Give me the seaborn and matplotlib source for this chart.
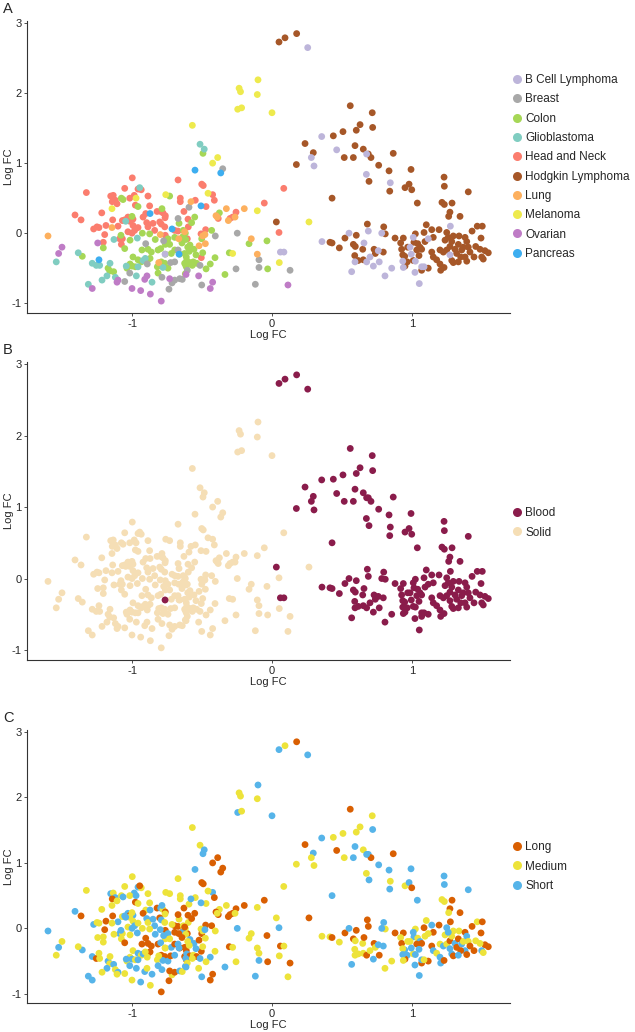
import pandas as pd
import matplotlib
matplotlib.use("Agg")
import matplotlib.pyplot as plt
import seaborn as sns
from matplotlib.lines import Line2D

# (log FC x, log FC y, treatment duration L/M/S) per cancer type
head_neck = [
    (-0.998, 0.79, 'M'), (-1.052, 0.64, 'M'), (-1.326, 0.58, 'M'), (-0.957, 0.63, 'S'), (-0.934, 0.62, 'M'),
    (-0.984, 0.54, 'S'), (-0.886, 0.53, 'M'), (-1.016, 0.50, 'M'), (-0.671, 0.76, 'M'), (-1.152, 0.53, 'S'),
    (-1.134, 0.54, 'M'), (-1.119, 0.47, 'S'), (-1.141, 0.45, 'L'), (-1.107, 0.42, 'M'), (-0.655, 0.50, 'M'),
    (-0.655, 0.45, 'M'), (-0.976, 0.40, 'L'), (-0.874, 0.39, 'M'), (-0.821, 0.31, 'L'), (-0.795, 0.31, 'S'),
    (-0.779, 0.29, 'M'), (-0.902, 0.28, 'M'), (-0.921, 0.23, 'L'), (-1.216, 0.29, 'M'), (-1.407, 0.26, 'S'),
    (-1.364, 0.19, 'L'), (-0.629, 0.31, 'L'), (-0.762, 0.25, 'L'), (-0.764, 0.22, 'M'), (-1.029, 0.23, 'S'),
    (-1.014, 0.20, 'L'), (-0.993, 0.20, 'S'), (-1.016, 0.17, 'M'), (-1.069, 0.18, 'M'), (-1.052, 0.19, 'S'),
    (-1.138, 0.19, 'L'), (-1.186, 0.11, 'L'), (-1.10, 0.10, 'S'), (-0.895, 0.15, 'S'), (-0.886, 0.09, 'M'),
    (-0.85, 0.14, 'S'), (-0.802, 0.16, 'L'), (-0.791, 0.13, 'S'), (-0.766, 0.09, 'M'), (-0.993, 0.11, 'M'),
    (-0.981, 0.04, 'S'), (-0.957, 0.08, 'M'), (-1.274, 0.06, 'S'), (-1.25, 0.09, 'M'), (-1.236, 0.08, 'M'),
    (-0.695, 0.04, 'L'), (-0.671, 0.03, 'L'), (-0.838, 0.04, 'S'), (-1.195, -0.02, 'L'), (-1.029, 0.02, 'M'),
    (-1.0, 0.00, 'S'), (-0.762, -0.03, 'L'), (-1.088, -0.08, 'S'), (-1.069, -0.08, 'M'), (-1.205, -0.13, 'M'),
    (-1.076, -0.16, 'M'), (-0.502, 0.70, 'L'), (-0.491, 0.68, 'L'), (-0.424, 0.55, 'S'), (-0.412, 0.47, 'L'),
    (-0.471, 0.38, 'M'), (-0.548, 0.47, 'M'), (-0.055, 0.43, 'L'), (-0.257, 0.30, 'L'), (-0.384, 0.21, 'L'),
    (-0.30, 0.21, 'L'), (-0.281, 0.23, 'L'), (-0.60, 0.20, 'L'), (-0.598, 0.09, 'M'), (-0.474, 0.05, 'L'),
    (-0.507, -0.01, 'M'), (-0.605, -0.08, 'L'), (-0.505, -0.35, 'L'), (0.084, 0.64, 'M'), (0.05, 0.01, 'S'),
]

colon = [
    (-0.731, 0.53, 'M'), (-1.076, 0.50, 'M'), (-1.064, 0.48, 'S'), (-0.957, 0.38, 'M'), (-0.786, 0.35, 'S'),
    (-1.0, 0.24, 'M'), (-0.664, 0.14, 'M'), (-0.926, 0.00, 'M'), (-0.874, -0.01, 'M'), (-1.079, -0.03, 'S'),
    (-1.014, -0.10, 'M'), (-0.834, -0.09, 'S'), (-0.743, -0.08, 'S'), (-0.695, -0.06, 'L'), (-0.636, -0.05, 'L'),
    (-0.762, -0.16, 'M'), (-0.731, -0.16, 'M'), (-1.205, -0.21, 'M'), (-1.052, -0.22, 'L'), (-1.355, -0.33, 'S'),
    (-0.929, -0.24, 'L'), (-0.886, -0.23, 'L'), (-0.862, -0.27, 'L'), (-0.814, -0.24, 'L'), (-0.795, -0.22, 'S'),
    (-0.762, -0.30, 'M'), (-0.719, -0.29, 'S'), (-0.695, -0.24, 'L'), (-0.659, -0.30, 'L'), (-0.624, -0.29, 'L'),
    (-0.612, -0.34, 'L'), (-0.993, -0.34, 'M'), (-0.957, -0.38, 'S'), (-0.934, -0.41, 'M'), (-0.886, -0.38, 'L'),
    (-0.871, -0.36, 'L'), (-0.791, -0.41, 'L'), (-0.766, -0.43, 'L'), (-0.743, -0.50, 'S'), (-0.624, -0.43, 'L'),
    (-0.612, -0.48, 'L'), (-1.171, -0.50, 'S'), (-1.159, -0.54, 'M'), (-1.036, -0.50, 'M'), (-1.014, -0.44, 'M'),
    (-1.0, -0.47, 'S'), (-0.976, -0.48, 'M'), (-0.819, -0.48, 'M'), (-0.814, -0.57, 'S'), (-1.131, -0.55, 'S'),
    (-0.619, -0.58, 'S'), (-0.493, 1.14, 'S'), (-0.376, 0.29, 'M'), (-0.552, 0.23, 'L'), (-0.574, 0.15, 'L'),
    (-0.431, 0.04, 'L'), (-0.634, 0.04, 'M'), (-0.619, 0.00, 'M'), (-0.638, -0.06, 'S'), (-0.616, -0.09, 'M'),
    (-0.643, -0.14, 'L'), (-0.502, -0.08, 'L'), (-0.036, -0.11, 'L'), (-0.164, -0.15, 'M'), (-0.586, -0.17, 'S'),
    (-0.602, -0.20, 'M'), (-0.557, -0.23, 'S'), (-0.591, -0.26, 'M'), (-0.495, -0.28, 'M'), (-0.543, -0.31, 'S'),
    (-0.305, -0.28, 'L'), (-0.407, -0.35, 'M'), (-0.441, -0.44, 'S'), (-0.471, -0.51, 'M'), (-0.609, -0.39, 'S'),
    (-0.586, -0.42, 'L'), (-0.562, -0.41, 'M'), (-0.538, -0.43, 'L'), (-0.616, -0.46, 'S'), (-0.569, -0.46, 'M'),
    (-0.336, -0.59, 'S'), (-0.031, -0.51, 'L'),
]

glioblastoma = [
    (-0.945, 0.65, 'L'), (-1.045, 0.17, 'S'), (-1.129, -0.09, 'M'), (-0.962, -0.07, 'S'), (-1.384, -0.28, 'M'),
    (-0.921, -0.39, 'S'), (-0.905, -0.36, 'M'), (-0.779, -0.49, 'S'), (-1.284, -0.43, 'S'), (-1.255, -0.46, 'L'),
    (-1.231, -0.46, 'M'), (-1.541, -0.41, 'M'), (-1.157, -0.43, 'M'), (-1.041, -0.47, 'S'), (-0.957, -0.48, 'S'),
    (-1.119, -0.63, 'M'), (-1.179, -0.61, 'S'), (-1.214, -0.67, 'M'), (-0.969, -0.61, 'S'), (-0.857, -0.70, 'S'),
    (-1.312, -0.73, 'S'), (-0.514, 1.27, 'M'), (-0.484, 1.20, 'S'),
]

breast = [
    (-0.671, 0.21, 'L'), (-0.774, -0.11, 'S'), (-0.902, -0.15, 'L'), (-0.671, -0.24, 'S'), (-0.724, -0.42, 'L'),
    (-0.695, -0.41, 'S'), (-0.891, -0.44, 'M'), (-1.016, -0.57, 'S'), (-1.052, -0.69, 'M'), (-0.786, -0.63, 'S'),
    (-0.714, -0.71, 'M'), (-0.695, -0.67, 'L'), (-0.659, -0.65, 'S'), (-0.641, -0.66, 'M'), (-0.736, -0.80, 'L'),
    (-0.352, 0.92, 'L'), (-0.593, 0.37, 'M'), (-0.248, 0.00, 'S'), (-0.405, -0.04, 'M'), (-0.093, -0.38, 'M'),
    (-0.514, -0.46, 'S'), (-0.605, -0.53, 'M'), (-0.257, -0.51, 'M'), (-0.093, -0.49, 'S'), (-0.502, -0.74, 'S'),
    (-0.119, -0.73, 'S'), (0.129, -0.53, 'L'),
]

ovarian = [
    (-1.245, -0.14, 'M'), (-1.50, -0.20, 'M'), (-1.524, -0.29, 'S'), (-1.10, -0.67, 'S'), (-1.107, -0.70, 'M'),
    (-0.909, -0.66, 'S'), (-0.893, -0.61, 'M'), (-0.731, -0.65, 'L'), (-1.284, -0.79, 'S'), (-1.0, -0.79, 'M'),
    (-0.938, -0.82, 'S'), (-0.869, -0.87, 'M'), (-0.791, -0.97, 'L'), (-0.614, -0.59, 'S'), (-0.524, -0.61, 'M'),
    (-0.424, -0.70, 'L'), (-0.441, -0.79, 'L'), (0.114, -0.74, 'M'),
]

melanoma = [
    (-0.759, 0.55, 'M'), (-0.971, 0.50, 'S'), (-1.143, 0.35, 'M'), (-0.569, 1.54, 'M'), (-0.424, 1.00, 'L'),
    (-0.388, 1.08, 'L'), (-0.457, 0.57, 'M'), (-0.105, 0.32, 'M'), (-0.281, -0.29, 'M'), (-0.235, 2.07, 'M'),
    (-0.225, 2.02, 'M'), (-0.105, 1.98, 'M'), (-0.245, 1.77, 'S'), (-0.217, 1.79, 'M'), (-0.10, 2.19, 'S'),
    (0.0, 1.72, 'S'), (0.264, 0.16, 'L'), (0.052, -0.42, 'M'),
]

lung = [
    (-1.60, -0.04, 'S'), (-1.143, 0.08, 'M'), (-0.624, 0.02, 'L'), (-0.798, -0.02, 'S'), (-0.666, -0.08, 'L'),
    (-0.809, -0.42, 'M'), (-0.579, 0.45, 'S'), (-0.326, 0.35, 'M'), (-0.198, 0.35, 'L'), (-0.40, 0.25, 'L'),
    (-0.391, 0.23, 'M'), (-0.264, 0.23, 'M'), (-0.312, 0.18, 'L'), (-0.495, -0.04, 'M'), (-0.479, -0.02, 'S'),
    (-0.148, -0.08, 'M'), (-0.521, -0.18, 'L'), (-0.476, -0.15, 'M'), (-0.105, -0.30, 'M'),
]

pancreas = [
    (-0.871, 0.28, 'S'), (-0.714, 0.06, 'M'), (-0.664, -0.30, 'S'), (-1.236, -0.38, 'M'), (-0.55, 0.90, 'S'),
    (-0.366, 0.86, 'L'), (-0.507, 0.39, 'S'),
]

b_cell = [
    (0.255, 2.65, 'S'), (0.355, 1.38, 'S'), (0.462, 1.19, 'L'), (0.676, 1.13, 'S'), (0.281, 1.08, 'M'),
    (0.30, 0.96, 'M'), (0.674, 0.84, 'M'), (0.845, 0.72, 'M'), (1.274, 0.10, 'L'), (0.688, 0.03, 'L'),
    (0.784, 0.00, 'S'), (0.55, 0.00, 'S'), (0.357, -0.12, 'M'), (0.657, -0.14, 'L'), (0.593, -0.41, 'M'),
    (0.569, -0.55, 'S'), (0.676, -0.41, 'L'), (0.70, -0.34, 'M'), (0.759, -0.25, 'S'), (0.766, -0.41, 'L'),
    (0.724, -0.47, 'S'), (0.807, -0.61, 'M'), (0.855, -0.50, 'M'), (1.009, -0.06, 'S'), (0.986, -0.20, 'M'),
    (0.934, -0.40, 'S'), (0.938, -0.49, 'M'), (0.995, -0.30, 'S'), (1.024, -0.40, 'S'), (1.069, -0.48, 'S'),
    (1.021, -0.56, 'S'), (1.052, -0.72, 'S'), (1.086, -0.48, 'M'), (1.116, -0.08, 'M'), (1.271, -0.31, 'S'),
    (0.06, -0.27, 'L'), (0.085, -0.27, 'M'), (-0.764, -0.30, 'M'),
]

hodgkin = [
    (0.05, 2.73, 'S'), (0.093, 2.79, 'M'), (0.176, 2.85, 'L'), (0.559, 1.82, 'L'), (0.716, 1.72, 'M'),
    (0.629, 1.55, 'M'), (0.719, 1.51, 'S'), (0.602, 1.47, 'M'), (0.507, 1.45, 'M'), (0.438, 1.39, 'M'),
    (0.236, 1.28, 'L'), (0.593, 1.25, 'S'), (0.652, 1.20, 'M'), (0.688, 1.13, 'S'), (0.707, 1.08, 'L'),
    (0.866, 1.14, 'L'), (0.295, 1.15, 'S'), (0.516, 1.08, 'M'), (0.581, 1.08, 'S'), (0.174, 0.98, 'M'),
    (0.762, 0.97, 'S'), (0.836, 0.89, 'S'), (0.993, 0.91, 'S'), (0.693, 0.74, 'S'), (0.841, 0.60, 'S'),
    (0.95, 0.65, 'M'), (0.979, 0.70, 'S'), (0.998, 0.62, 'L'), (1.229, 0.80, 'S'), (1.231, 0.67, 'S'),
    (1.402, 0.59, 'S'), (1.038, 0.43, 'S'), (1.214, 0.44, 'M'), (1.231, 0.41, 'M'), (1.286, 0.43, 'L'),
    (1.271, 0.30, 'L'), (1.262, 0.24, 'M'), (1.343, 0.24, 'L'), (1.102, 0.12, 'M'), (0.429, 0.50, 'S'),
    (0.031, 0.16, 'M'), (0.681, 0.13, 'L'), (0.798, 0.09, 'S'), (0.809, -0.01, 'M'), (0.602, -0.03, 'L'),
    (0.521, -0.07, 'L'), (0.414, -0.13, 'M'), (0.429, -0.14, 'L'), (0.481, -0.21, 'M'), (0.581, -0.16, 'L'),
    (0.595, -0.19, 'M'), (0.648, -0.23, 'M'), (0.591, -0.32, 'M'), (0.616, -0.39, 'M'), (0.652, -0.38, 'M'),
    (0.729, -0.23, 'L'), (0.738, -0.29, 'M'), (0.795, -0.27, 'S'), (0.879, -0.07, 'L'), (0.938, -0.07, 'L'),
    (0.919, -0.14, 'M'), (1.024, -0.01, 'M'), (1.086, 0.01, 'L'), (1.141, 0.05, 'S'), (1.193, 0.05, 'L'),
    (1.152, -0.06, 'L'), (1.248, 0.01, 'S'), (1.295, -0.04, 'M'), (1.336, -0.04, 'M'), (1.379, -0.06, 'L'),
    (1.429, 0.03, 'L'), (1.466, 0.10, 'M'), (1.502, 0.10, 'L'), (1.493, -0.07, 'L'), (0.926, -0.23, 'L'),
    (0.969, -0.20, 'M'), (1.014, -0.13, 'S'), (1.041, -0.15, 'M'), (1.057, -0.20, 'S'), (1.069, -0.23, 'L'),
    (1.093, -0.12, 'M'), (1.034, -0.24, 'L'), (0.948, -0.33, 'S'), (0.934, -0.31, 'M'), (0.966, -0.41, 'S'),
    (0.95, -0.47, 'L'), (1.009, -0.39, 'M'), (1.05, -0.32, 'S'), (1.069, -0.53, 'L'), (1.116, -0.50, 'L'),
    (1.141, -0.27, 'L'), (1.152, -0.34, 'S'), (1.176, -0.38, 'M'), (1.20, -0.44, 'S'), (1.205, -0.53, 'S'),
    (1.229, -0.49, 'L'), (1.20, -0.24, 'M'), (1.224, -0.27, 'S'), (1.248, -0.24, 'M'), (1.271, -0.19, 'L'),
    (1.284, -0.12, 'M'), (1.307, -0.23, 'S'), (1.319, -0.29, 'L'), (1.331, -0.16, 'L'), (1.355, -0.24, 'S'),
    (1.366, -0.20, 'M'), (1.391, -0.12, 'S'), (1.402, -0.20, 'M'), (1.414, -0.27, 'L'), (1.379, -0.34, 'S'),
    (1.348, -0.34, 'L'), (1.284, -0.39, 'S'), (1.295, -0.42, 'L'), (1.331, -0.41, 'S'), (1.391, -0.40, 'L'),
    (1.443, -0.34, 'L'), (1.498, -0.34, 'S'), (1.509, -0.37, 'M'), (1.521, -0.25, 'L'), (1.545, -0.28, 'L'),
    (1.455, -0.19, 'M'), (1.486, -0.23, 'M'), (1.236, -0.10, 'M'), (1.259, -0.06, 'S'),
]

cancer_order = ['B Cell Lymphoma', 'Breast', 'Colon', 'Glioblastoma', 'Head and Neck',
                'Hodgkin Lymphoma', 'Lung', 'Melanoma', 'Ovarian', 'Pancreas']
cancer_points = {
    'Head and Neck': head_neck, 'Colon': colon, 'Glioblastoma': glioblastoma,
    'Breast': breast, 'Ovarian': ovarian, 'Melanoma': melanoma, 'Lung': lung,
    'Pancreas': pancreas, 'Hodgkin Lymphoma': hodgkin, 'B Cell Lymphoma': b_cell,
}
blood_types = ['B Cell Lymphoma', 'Hodgkin Lymphoma']
duration_names = {'L': 'Long', 'M': 'Medium', 'S': 'Short'}

cancer_colors = ['#bdb5da', '#a8a8a8', '#a6d756', '#80cdc1', '#fb7d6e',
                 '#a65728', '#fdb05e', '#eeea4d', '#bf7cc6', '#3daef0']
tissue_order = ['Blood', 'Solid']
tissue_colors = ['#8a1c4b', '#f5deb5']
duration_order = ['Long', 'Medium', 'Short']
duration_colors = ['#d95f02', '#ede33a', '#56b4e9']

rows = []
for cancer, pts in cancer_points.items():
    for x, y, d in pts:
        rows.append({'x': x, 'y': y, 'cancer': cancer,
                     'tissue': 'Blood' if cancer in blood_types else 'Solid',
                     'duration': duration_names[d]})
df = pd.DataFrame(rows)

sns.set_theme(style="ticks")
plt.rcParams['font.family'] = ['Liberation Sans', 'DejaVu Sans']
plt.rcParams['axes.unicode_minus'] = False

W, H = 635, 1032
fig = plt.figure(figsize=(W / 100, H / 100), dpi=100)

# axes boxes in pixels: (top, bottom), legend vertical anchor
panels = [
    ('A', 21, 313, 'cancer', cancer_order, cancer_colors, 0.5),
    ('B', 362, 660, 'tissue', tissue_order, tissue_colors, 0.46),
    ('C', 730, 1003, 'duration', duration_order, duration_colors, 0.5),
]
left_px, right_px = 27, 510

for label, top, bottom, hue, order, colors, leg_y in panels:
    ax = fig.add_axes([left_px / W, 1 - bottom / H, (right_px - left_px) / W, (bottom - top) / H])
    pal = dict(zip(order, colors))
    sns.scatterplot(data=df, x='x', y='y', hue=hue, hue_order=order, palette=pal,
                    s=24, linewidth=0, alpha=1, legend=False, ax=ax)
    ax.set_xlim(-1.75, 1.70)
    ax.set_ylim(-1.14, 3.03)
    ax.set_xticks([-1, 0, 1])
    ax.set_yticks([-1, 0, 1, 2, 3])
    ax.set_xlabel('Log FC', fontsize=8, labelpad=1)
    ax.set_ylabel('Log FC', fontsize=8)
    ax.yaxis.set_label_coords(-0.026, 0.5)
    ax.tick_params(labelsize=8, length=2.5, width=0.6, color='#333333', pad=1.5)
    for side in ['top', 'right']:
        ax.spines[side].set_visible(False)
    for side in ['left', 'bottom']:
        ax.spines[side].set_color('#333333')
        ax.spines[side].set_linewidth(0.8)

    handles = [Line2D([0], [0], marker='o', linestyle='', markersize=6.5,
                      markerfacecolor=c, markeredgewidth=0) for c in colors]
    ax.legend(handles, order, loc='center left', bbox_to_anchor=(1.0, leg_y),
              frameon=False, fontsize=8.5, handlelength=0.8, handletextpad=0.3,
              labelspacing=0.62, borderaxespad=0.2, borderpad=0)
    fig.text(8 / W, 1 - (top - 12) / H, label, fontsize=10.5, va='center', ha='center')

fig.savefig('out.png', dpi=100)
